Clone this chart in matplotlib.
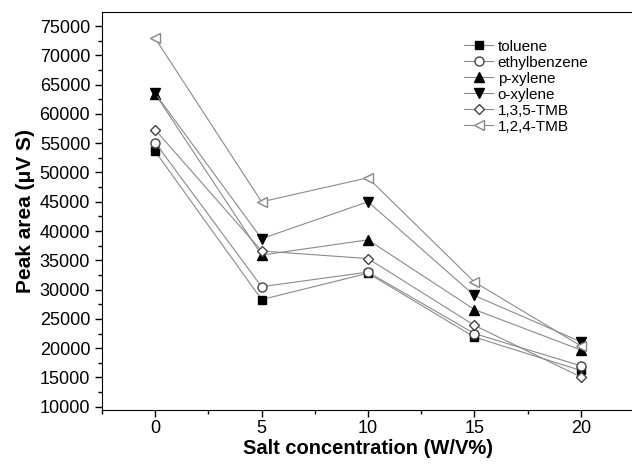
import matplotlib
matplotlib.use("Agg")
import matplotlib.pyplot as plt
from matplotlib.ticker import MultipleLocator

plt.rcParams['font.family'] = ['Liberation Sans', 'DejaVu Sans']

salt = [0, 5, 10, 15, 20]
toluene = [53600, 28300, 32800, 21900, 16200]
ethylbenzene = [55100, 30500, 33000, 22500, 17000]
p_xylene = [63400, 35900, 38500, 26600, 19700]
o_xylene = [63500, 38700, 45000, 29000, 21100]
tmb135 = [57300, 36600, 35300, 23900, 15100]
tmb124 = [72900, 45000, 49100, 31300, 20400]

fig = plt.figure(figsize=(6.32, 4.68), dpi=100)
ax = fig.add_axes([102 / 632, 58 / 468, 532 / 632, 398 / 468])

line_col = '#8a8a8a'
kw = dict(color=line_col, linewidth=0.8, markersize=6.5)
ax.plot(salt, toluene, marker='s', mfc='black', mec='black', markersize=6,
        color=line_col, linewidth=0.8, label='toluene')
ax.plot(salt, ethylbenzene, marker='o', mfc='white', mec='#444444', label='ethylbenzene', **kw)
ax.plot(salt, p_xylene, marker='^', mfc='black', mec='black', label='p-xylene', **kw)
ax.plot(salt, o_xylene, marker='v', mfc='black', mec='black', label='o-xylene', **kw)
ax.plot(salt, tmb135, marker='D', mfc='white', mec='#444444', markersize=5.5,
        color=line_col, linewidth=0.8, label='1,3,5-TMB')
ax.plot(salt, tmb124, marker='<', mfc='white', mec='#888888', label='1,2,4-TMB', **kw)

ax.set_xlim(-2.5, 22.5)
ax.set_ylim(9450, 77400)
ax.xaxis.set_major_locator(MultipleLocator(5))
ax.xaxis.set_minor_locator(MultipleLocator(2.5))
ax.yaxis.set_major_locator(MultipleLocator(5000))
ax.yaxis.set_minor_locator(MultipleLocator(2500))
ax.tick_params(which='both', direction='out', top=False, right=False, labelsize=13)
ax.tick_params(which='major', length=5, width=1)
ax.tick_params(which='minor', length=3, width=1)
ax.tick_params(axis='x', pad=2)

ax.set_xlabel('Salt concentration (W/V%)', fontsize=14.5, fontweight='bold', labelpad=2)
ax.set_ylabel('Peak area (\u03bcV S)', fontsize=15, fontweight='bold', labelpad=3)

ax.legend(loc='upper left', bbox_to_anchor=(0.655, 0.965), frameon=False,
          fontsize=11, handlelength=1.9, handletextpad=0.3, labelspacing=0.13)

fig.savefig('out.png', dpi=100)
